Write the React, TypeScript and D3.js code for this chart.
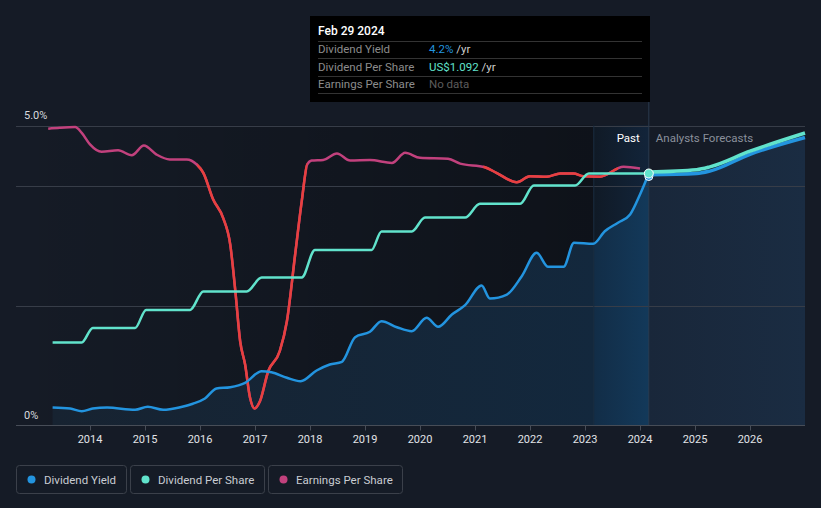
import React, { useEffect } from "react";
import * as d3 from "d3";

// ---- data (decimal years) ----
const yieldPast: [number, number][] = [
  [2013.32, 0.3], [2013.64, 0.283], [2013.85, 0.238], [2014.05, 0.283], [2014.31, 0.3],
  [2014.82, 0.262], [2015.05, 0.312], [2015.33, 0.262], [2015.64, 0.305], [2015.87, 0.362],
  [2016.09, 0.45], [2016.3, 0.617], [2016.55, 0.638], [2016.82, 0.712], [2017.12, 0.905],
  [2017.3, 0.888], [2017.58, 0.795], [2017.83, 0.738], [2018.12, 0.917], [2018.36, 1.017],
  [2018.58, 1.062], [2018.82, 1.472], [2019.09, 1.562], [2019.3, 1.738], [2019.58, 1.638],
  [2019.85, 1.572], [2020.12, 1.795], [2020.33, 1.645], [2020.58, 1.85], [2020.82, 2.005],
  [2021.12, 2.333], [2021.27, 2.117], [2021.58, 2.183], [2021.85, 2.488], [2022.12, 2.878],
  [2022.33, 2.645], [2022.61, 2.645], [2022.8, 3.045], [2023.15, 3.028], [2023.36, 3.238],
  [2023.6, 3.38], [2023.82, 3.517], [2024.0, 3.85], [2024.16, 4.2],
];
const yieldForecast: [number, number][] = [
  [2024.16, 4.18], [2025.03, 4.2], [2025.27, 4.24], [2026.0, 4.52], [2027.0, 4.8],
];
const dpsPast: [number, number][] = [
  [2013.32, 0.36], [2013.85, 0.36], [2014.05, 0.423], [2014.82, 0.423], [2015.02, 0.501],
  [2015.82, 0.501], [2016.06, 0.581], [2016.85, 0.581], [2017.12, 0.641], [2017.85, 0.641],
  [2018.09, 0.761], [2019.12, 0.761], [2019.3, 0.841], [2019.85, 0.841], [2020.09, 0.901],
  [2020.82, 0.901], [2021.09, 0.961], [2021.82, 0.961], [2022.07, 1.04], [2022.82, 1.04],
  [2023.07, 1.092], [2024.16, 1.092],
];
const dpsForecast: [number, number][] = [
  [2024.16, 1.092], [2025.03, 1.102], [2025.27, 1.114], [2026.0, 1.182], [2027.0, 1.261],
];
const epsPast: [number, number][] = [
  [2013.24, 1.286], [2013.45, 1.29], [2013.73, 1.293], [2013.85, 1.268], [2014.0, 1.218],
  [2014.21, 1.186], [2014.51, 1.193], [2014.76, 1.171], [2014.98, 1.213], [2015.21, 1.174],
  [2015.45, 1.153], [2015.76, 1.153], [2015.94, 1.131], [2016.06, 1.095], [2016.24, 0.979],
  [2016.42, 0.9], [2016.55, 0.784], [2016.64, 0.589], [2016.73, 0.365], [2016.82, 0.264],
  [2016.91, 0.12], [2016.99, 0.074], [2017.09, 0.105], [2017.24, 0.235], [2017.45, 0.322],
  [2017.58, 0.452], [2017.73, 0.741], [2017.85, 0.972], [2017.95, 1.131], [2018.03, 1.148],
  [2018.24, 1.151], [2018.49, 1.179], [2018.73, 1.148], [2019.09, 1.15], [2019.49, 1.138],
  [2019.73, 1.182], [2020.0, 1.16], [2020.51, 1.156], [2020.73, 1.135], [2021.18, 1.119],
  [2021.39, 1.095], [2021.76, 1.054], [2022.0, 1.08], [2022.3, 1.078], [2022.55, 1.092],
  [2022.79, 1.092], [2022.97, 1.08], [2023.27, 1.078], [2023.7, 1.121], [2024.0, 1.114],
];
const epsDeclineRanges: [number, number][] = [[2015.95, 2017.95], [2021.15, 2023.6]];
const yearTicks = [2014, 2015, 2016, 2017, 2018, 2019, 2020, 2021, 2022, 2023, 2024, 2025, 2026];
const yieldGrid = [2, 4, 5];
const yLabels: [number, string][] = [[5, "5.0%"], [0, "0%"]];
const tooltipDate = "Feb 29 2024";
const tooltipT = 2024.16;
const pastStart = 2023.16;
const legendItems = [
  { label: "Dividend Yield", color: "#2394df" },
  { label: "Dividend Per Share", color: "#61e3cc" },
  { label: "Earnings Per Share", color: "#c2417d" },
];

const W = 821, H = 508;
const FONT = "Roboto, 'Noto Sans', sans-serif";

export default function App() {
  useEffect(() => {
    document.body.style.margin = "0";
    document.body.style.background = "#151b26";
  }, []);

  const x = d3.scaleLinear().domain([2014, 2026]).range([90, 750]);
  const yY = d3.scaleLinear().domain([0, 5]).range([425.5, 125.5]);
  const yD = d3.scaleLinear().domain([0, 1.3]).range([425.5, 125.5]);
  const L = 16, R = 805, TOP = 125.5, BOT = 425.5;

  const lineY = d3.line<[number, number]>().x(d => x(d[0])).y(d => yY(d[1])).curve(d3.curveMonotoneX);
  const lineD = d3.line<[number, number]>().x(d => x(d[0])).y(d => yD(d[1])).curve(d3.curveMonotoneX);
  const allYield = [...yieldPast, ...yieldForecast.slice(1)];
  const areaY = d3.area<[number, number]>().x(d => x(d[0])).y0(BOT).y1(d => yY(d[1])).curve(d3.curveMonotoneX);

  const xs = x(yieldPast[0][0]);
  const xPast = x(pastStart);
  const xNow = x(tooltipT);
  const off = (v: number) => `${((v - xs) / (R - xs)) * 100}%`;

  const yieldNow = yieldPast[yieldPast.length - 1][1];
  const dpsNow = dpsPast[dpsPast.length - 1][1];

  return (
    <svg width={W} height={H} style={{ display: "block", background: "#151b26" }} fontFamily={FONT}>
      <defs>
        <linearGradient id="pastDark" gradientUnits="userSpaceOnUse" x1={L} x2={xPast} y1={0} y2={0}>
          <stop offset="0%" stopColor="#000" stopOpacity={0} />
          <stop offset="100%" stopColor="#000" stopOpacity={0.33} />
        </linearGradient>
        <linearGradient id="band" gradientUnits="userSpaceOnUse" x1={xPast} x2={xNow} y1={0} y2={0}>
          <stop offset="0%" stopColor="#101a26" />
          <stop offset="100%" stopColor="#12243a" />
        </linearGradient>
        <linearGradient id="areaFill" gradientUnits="userSpaceOnUse" x1={xs} x2={R} y1={0} y2={0}>
          <stop offset="0%" stopColor="#172331" />
          <stop offset={off(xPast)} stopColor="#13283d" />
          <stop offset={off(xPast)} stopColor="#122d47" />
          <stop offset={off(xNow)} stopColor="#13395a" />
          <stop offset={off(xNow)} stopColor="#19273a" />
          <stop offset="100%" stopColor="#1a2c42" />
        </linearGradient>
        {epsDeclineRanges.map((r, i) => (
          <clipPath id={`red${i}`} key={i}>
            <rect x={x(r[0])} y={0} width={x(r[1]) - x(r[0])} height={H} />
          </clipPath>
        ))}
      </defs>

      {/* past darkening */}
      <rect x={L} y={TOP} width={xPast - L} height={BOT - TOP} fill="url(#pastDark)" />
      <rect x={xPast} y={TOP} width={xNow - xPast} height={BOT - TOP} fill="url(#band)" />

      {/* area */}
      <path d={areaY(allYield) || ""} fill="url(#areaFill)" />

      {/* grid */}
      {yieldGrid.map(g => (
        <line key={g} x1={L} x2={R} y1={Math.round(yY(g)) + 0.5} y2={Math.round(yY(g)) + 0.5} stroke="#373d48" strokeWidth={1} />
      ))}
      <line x1={xPast} x2={xPast} y1={TOP} y2={BOT} stroke="#1a2d40" strokeWidth={1} />
      <line x1={xNow} x2={xNow} y1={16} y2={BOT} stroke="#2a3a4e" strokeWidth={1} />

      {/* axis */}
      <line x1={L} x2={R} y1={BOT} y2={BOT} stroke="#474d57" strokeWidth={1} />
      {yearTicks.map(t => (
        <g key={t}>
          <line x1={Math.round(x(t)) + 0.5} x2={Math.round(x(t)) + 0.5} y1={BOT} y2={BOT + 5} stroke="#474d57" />
          <text x={x(t)} y={443} textAnchor="middle" fontSize={11} fill="#e2e4e8">{t}</text>
        </g>
      ))}
      {yLabels.map(([v, s]) => (
        <text key={s} x={24} y={yY(v) - 7} fontSize={11} fill="#d8dadf">{s}</text>
      ))}

      {/* EPS */}
      <path d={lineD(epsPast) || ""} fill="none" stroke="#c2417d" strokeWidth={2.5} />
      {epsDeclineRanges.map((r, i) => (
        <path key={i} d={lineD(epsPast) || ""} fill="none" stroke="#e8403f" strokeWidth={2.5} clipPath={`url(#red${i})`} />
      ))}

      {/* DPS */}
      <path d={lineD(dpsPast) || ""} fill="none" stroke="#61e3cc" strokeWidth={2.5} />
      {/* Yield */}
      <path d={lineY(yieldPast) || ""} fill="none" stroke="#2394df" strokeWidth={2.5} />
      <path d={lineY(yieldForecast) || ""} fill="none" stroke="#2394df" strokeWidth={3.5} />
      <path d={lineD(dpsForecast) || ""} fill="none" stroke="#61e3cc" strokeWidth={3.5} transform="translate(0,-1.5)" />

      {/* markers */}
      <circle cx={xNow} cy={yY(yieldNow) + 3} r={4} fill="#2394df" stroke="#fff" strokeWidth={1} />
      <circle cx={xNow} cy={yD(dpsNow)} r={4.5} fill="#61e3cc" stroke="#fff" strokeWidth={1} />

      {/* past / forecasts labels */}
      <text x={xNow - 9} y={142} textAnchor="end" fontSize={11.5} fill="#ffffff">Past</text>
      <text x={xNow + 7} y={142} fontSize={11.5} fill="#8a909b">Analysts Forecasts</text>

      {/* tooltip */}
      <g>
        <rect x={310} y={16} width={340} height={86} fill="#000" />
        <text x={318} y={35} fontSize={12} fill="#fff" fontWeight={500}>{tooltipDate}</text>
        {[41.5, 58.5, 76.5, 93.5].map(v => (
          <line key={v} x1={318} x2={642} y1={v} y2={v} stroke="#333" />
        ))}
        <text x={318} y={53} fontSize={11.5} fill="#8c8c8c">Dividend Yield</text>
        <text x={318} y={70.5} fontSize={11.5} fill="#8c8c8c">Dividend Per Share</text>
        <text x={318} y={88} fontSize={11.5} fill="#8c8c8c">Earnings Per Share</text>
        <text x={429} y={53} fontSize={11.5}>
          <tspan fill="#2394df">{`${yieldNow.toFixed(1)}%`}</tspan>
          <tspan fill="#cfcfcf"> /yr</tspan>
        </text>
        <text x={429} y={70.5} fontSize={11.5}>
          <tspan fill="#61e3cc">{`US$${dpsNow.toFixed(3)}`}</tspan>
          <tspan fill="#cfcfcf"> /yr</tspan>
        </text>
        <text x={429} y={88} fontSize={11.5} fill="#5c5c5c">No data</text>
      </g>

      {/* legend */}
      {(() => {
        const boxes = [
          { x: 16.5, w: 110 },
          { x: 130.5, w: 134 },
          { x: 268.5, w: 134 },
        ];
        return legendItems.map((it, i) => (
          <g key={it.label}>
            <rect x={boxes[i].x} y={465.5} width={boxes[i].w} height={28} rx={3} fill="none" stroke="#3b404a" />
            <circle cx={boxes[i].x + 15} cy={479.5} r={4} fill={it.color} />
            <text x={boxes[i].x + 27.5} y={483.5} fontSize={11.5} fill="#c9ccd2">{it.label}</text>
          </g>
        ));
      })()}
    </svg>
  );
}
